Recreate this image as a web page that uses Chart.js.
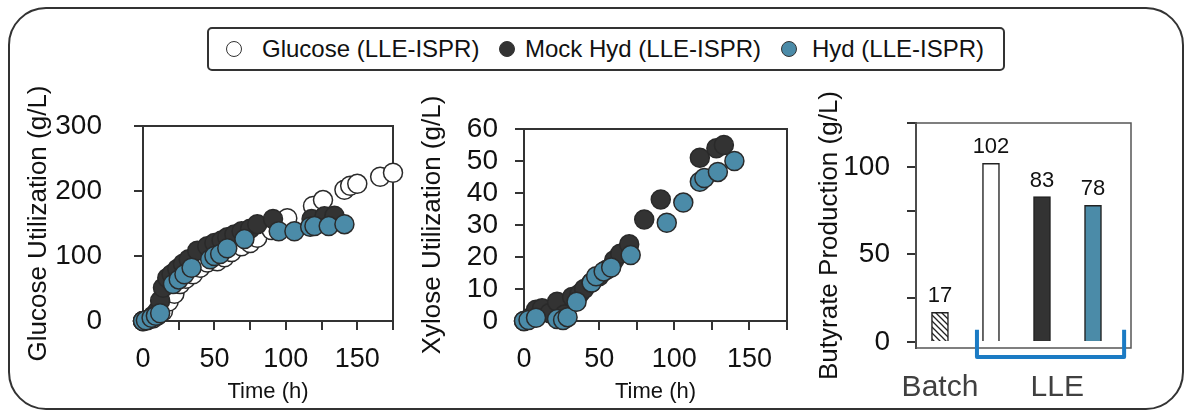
<!DOCTYPE html>
<html>
<head>
<meta charset="utf-8">
<script src="https://cdn.jsdelivr.net/npm/chart.js@4.4.1/dist/chart.umd.min.js"></script>
<style>
  body { margin: 0; background: #fff; font-family: "Liberation Sans", Arial, sans-serif; }
  #page { position: relative; width: 1192px; height: 419px; overflow: hidden; }
  #frame { position: absolute; left: 8px; top: 7px; width: 1176px; height: 403px; border: 2px solid #333; border-radius: 38px; box-sizing: border-box; }
  #legend { position: absolute; left: 207px; top: 27px; width: 798px; height: 44px; border: 2px solid #333; border-radius: 5px; box-sizing: border-box; }
  .item { position: absolute; top: 0; height: 40px; line-height: 40px; font-size: 24px; color: #111; white-space: nowrap; }
  .dot { position: absolute; top: 12px; width: 16px; height: 16px; border-radius: 50%; border: 1.5px solid #333; box-sizing: border-box; }
  canvas { position: absolute; }
</style>
</head>
<body>
<div id="page">
  <div id="frame"></div>
  <div id="legend">
    <div class="dot" style="left:17px;background:#fff"></div>
    <div class="item" style="left:53px">Glucose (LLE-ISPR)</div>
    <div class="dot" style="left:290px;background:#333"></div>
    <div class="item" style="left:316px">Mock Hyd (LLE-ISPR)</div>
    <div class="dot" style="left:572px;background:#4b8ba8"></div>
    <div class="item" style="left:603px">Hyd (LLE-ISPR)</div>
  </div>
  <canvas id="glucose" width="420" height="330" style="left:0px;top:80px"></canvas>
  <canvas id="xylose" width="395" height="330" style="left:405px;top:80px"></canvas>
  <canvas id="butyrate" width="375" height="330" style="left:805px;top:80px"></canvas>
</div>
<script>
// glucose utilization (g/L) vs time (h)
const glcTime = [0, 3, 7, 10, 14, 18, 22, 26, 30, 35, 40, 45, 52, 57, 62, 69, 75, 80, 90, 101, 119, 126, 141, 145, 150, 166, 175];
const glcGlucose = [0, 1, 4, 8, 15, 30, 42, 57, 65, 72, 82, 90, 92, 98, 106, 115, 120, 128, 140, 158, 177, 186, 202, 208, 211, 222, 228];
const mockTime = [0, 3, 7, 10, 12, 14, 17, 20, 24, 28, 32, 38, 45, 50, 55, 59, 64, 69, 75, 80, 91, 118, 127, 134];
const mockGlucose = [0, 2, 8, 15, 31, 51, 66, 72, 80, 88, 95, 108, 115, 120, 124, 129, 133, 138, 142, 149, 157, 157, 161, 162];
const hydTime = [0, 2, 6, 9, 12, 21, 25, 29, 34, 47, 50, 54, 59, 71, 95, 106, 117, 120, 130, 141];
const hydGlucose = [0, 1, 5, 8, 12, 57, 64, 72, 82, 95, 100, 103, 112, 126, 138, 138, 145, 146, 146, 149];

// xylose utilization (g/L) vs time (h)
const mockXylTime = [0, 4, 8, 12, 17, 22, 27, 32, 37, 40, 45, 50, 55, 60, 64, 70, 80, 91, 117, 128, 133];
const mockXylose = [0, 1, 3.5, 4, 2.5, 6, 2, 7.5, 8.5, 10, 12, 14, 16, 19, 21, 24, 31.7, 38, 51, 54, 55];
const hydXylTime = [0, 3, 8, 22, 26, 29, 35, 45, 48, 53, 58, 71, 95, 106, 117, 120, 129, 140];
const hydXylose = [0, 0.3, 1, 0.6, 0.3, 1.2, 6, 12, 14, 15.5, 16.7, 20.6, 30.7, 37, 43.5, 44.7, 46.6, 50];

// butyrate production (g/L)
const butyrateCats = ['Batch', 'Glucose (LLE-ISPR)', 'Mock Hyd (LLE-ISPR)', 'Hyd (LLE-ISPR)'];
const butyrateVals = [17, 102, 83, 78];

const timeTicks = [0, 50, 100, 150];
const glucoseTicks = [0, 100, 200, 300];
const butyrateTicks = [0, 50, 100];

const FONT = '"Liberation Sans", Arial, sans-serif';
const DARK = '#333333';
const BLUE = '#4b8ba8';

function pts(xs, ys) {
    return xs.map((x, i) => ({x: x, y: ys[i]}));
}

function scatterSet(label, data, fill, order) {
    return {
        label: label,
        data: data,
        backgroundColor: fill,
        borderColor: '#2a2a2a',
        borderWidth: 1.5,
        pointRadius: 9.5,
        order: order,
        clip: false
    };
}

// draws the top / right sides of the plot box
const boxPlugin = {
    id: 'box',
    beforeDatasetsDraw(chart, args, opts) {
        const a = chart.chartArea, c = chart.ctx;
        c.save();
        c.strokeStyle = opts.color || '#333';
        c.lineWidth = opts.width || 2;
        c.strokeRect(a.left, a.top, a.right - a.left, a.bottom - a.top);
        c.restore();
    }
};

function timeAxis() {
    return {
        type: 'linear', min: 0, max: 175,
        ticks: {
            stepSize: 25, color: '#111', padding: 13, maxRotation: 0, autoSkip: false,
            font: {family: FONT, size: 27},
            callback: (v) => timeTicks.includes(v) ? v : ''
        },
        grid: {drawOnChartArea: false, tickLength: 9, color: DARK, lineWidth: 2},
        border: {color: DARK, width: 2},
        title: {display: true, text: 'Time (h)', color: '#111', font: {family: FONT, size: 22}, padding: {top: 0, bottom: 5}},
        afterFit: (s) => { s.height = 89; }
    };
}

function valueAxis(title, min, max, step, width, titlePad, tickPad, labels) {
    return {
        type: 'linear', min: min, max: max,
        ticks: {
            stepSize: step, color: '#111', padding: tickPad, autoSkip: false,
            font: {family: FONT, size: 28, lineHeight: 1},
            callback: (v) => (!labels || labels.includes(v)) ? v : ''
        },
        grid: {drawOnChartArea: false, tickLength: 9, color: DARK, lineWidth: 2},
        border: {color: DARK, width: 2},
        title: {display: true, text: title, color: '#111', font: {family: FONT, size: 26}, padding: {top: titlePad, bottom: 0}},
        afterFit: (s) => { s.width = width; }
    };
}

new Chart(document.getElementById('glucose'), {
    type: 'scatter',
    data: {
        datasets: [
            scatterSet('Glucose (LLE-ISPR)', pts(glcTime, glcGlucose), '#ffffff', 3),
            scatterSet('Mock Hyd (LLE-ISPR)', pts(mockTime, mockGlucose), DARK, 2),
            scatterSet('Hyd (LLE-ISPR)', pts(hydTime, hydGlucose), BLUE, 1)
        ]
    },
    options: {
        responsive: false, animation: false,
        layout: {padding: {top: 45, right: 27, left: 0, bottom: 0}},
        plugins: {legend: {display: false}, tooltip: {enabled: false}, box: {color: '#333', width: 2}},
        scales: {
            x: timeAxis(),
            y: valueAxis('Glucose Utilization (g/L)', 0, 300, 100, 143, 23, 32, glucoseTicks)
        }
    },
    plugins: [boxPlugin]
});

new Chart(document.getElementById('xylose'), {
    type: 'scatter',
    data: {
        datasets: [
            scatterSet('Mock Hyd (LLE-ISPR)', pts(mockXylTime, mockXylose), DARK, 2),
            scatterSet('Hyd (LLE-ISPR)', pts(hydXylTime, hydXylose), BLUE, 1)
        ]
    },
    options: {
        responsive: false, animation: false,
        layout: {padding: {top: 49, right: 9, left: 0, bottom: 0}},
        plugins: {legend: {display: false}, tooltip: {enabled: false}, box: {color: '#333', width: 2}},
        scales: {
            x: timeAxis(),
            y: valueAxis('Xylose Utilization (g/L)', 0, 60, 10, 119, 12, 17, null)
        }
    },
    plugins: [boxPlugin]
});

// hatched fill for the batch bar
const hc = document.createElement('canvas');
hc.width = 6; hc.height = 6;
const hx = hc.getContext('2d');
hx.fillStyle = '#fff';
hx.fillRect(0, 0, 6, 6);
hx.strokeStyle = '#222';
hx.lineWidth = 1.3;
hx.beginPath();
hx.moveTo(-1, -1); hx.lineTo(7, 7);
hx.moveTo(-1, 5); hx.lineTo(1, 7);
hx.moveTo(5, -1); hx.lineTo(7, 1);
hx.stroke();
const hatch = document.getElementById('butyrate').getContext('2d').createPattern(hc, 'repeat');

// value labels over the bars
const barLabels = {
    id: 'barLabels',
    afterDatasetsDraw(chart) {
        const c = chart.ctx;
        c.save();
        c.font = '22px ' + FONT;
        c.fillStyle = '#111';
        c.textAlign = 'center';
        c.textBaseline = 'middle';
        chart.getDatasetMeta(0).data.forEach((bar, i) => {
            c.fillText(String(butyrateVals[i]), bar.x, bar.y - 16);
        });
        c.restore();
    }
};

// LLE bracket and the group names under the bars
const groupPlugin = {
    id: 'groups',
    afterDraw(chart) {
        const c = chart.ctx, x = chart.scales.x, y = chart.scales.y;
        const x0 = x.getPixelForValue(1.725), x1 = x.getPixelForValue(4.61);
        const yTop = y.getPixelForValue(7), yBot = y.getPixelForValue(-8.6);
        c.save();
        c.strokeStyle = '#1b7bc4';
        c.lineWidth = 4;
        c.lineJoin = 'round';
        c.beginPath();
        c.moveTo(x0, yTop);
        c.lineTo(x0, yBot);
        c.lineTo(x1, yBot);
        c.lineTo(x1, yTop);
        c.stroke();
        c.font = '30px ' + FONT;
        c.fillStyle = '#404040';
        c.textAlign = 'center';
        c.textBaseline = 'middle';
        c.fillText('Batch', x.getPixelForValue(1), y.getPixelForValue(-26));
        c.fillText('LLE', x.getPixelForValue(3.3), y.getPixelForValue(-26));
        c.restore();
    }
};

new Chart(document.getElementById('butyrate'), {
    type: 'bar',
    data: {
        labels: butyrateCats,
        datasets: [{
            label: 'Butyrate',
            data: butyrateVals.map((v, i) => ({x: i + 1, y: v})),
            backgroundColor: [hatch, '#ffffff', DARK, BLUE],
            borderColor: '#222',
            borderWidth: 1.5,
            barThickness: 17
        }]
    },
    options: {
        responsive: false, animation: false,
        layout: {padding: {top: 43, right: 49, left: 0, bottom: 62}},
        plugins: {legend: {display: false}, tooltip: {enabled: false}, box: {color: '#555', width: 1.5}},
        scales: {
            x: {type: 'linear', min: 0.53, max: 4.745, offset: false, display: false},
            y: Object.assign(valueAxis('Butyrate Production (g/L)', -3.4, 125, 25, 111, 9, 17, butyrateTicks), {
                afterBuildTicks: (s) => { s.ticks = [0, 25, 50, 75, 100, 125].map(v => ({value: v})); },
                afterFit: (s) => { s.width = 111; }
            })
        }
    },
    plugins: [boxPlugin, barLabels, groupPlugin]
});
</script>
</body>
</html>
